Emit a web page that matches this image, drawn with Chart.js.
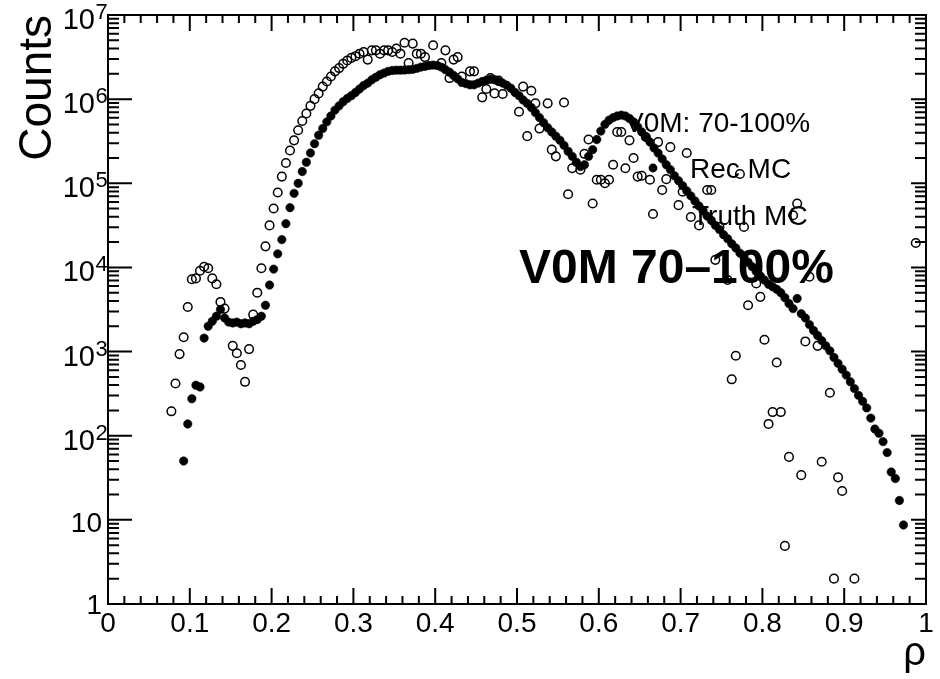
<!DOCTYPE html>
<html>
<head>
<meta charset="utf-8">
<script src="https://cdn.jsdelivr.net/npm/chart.js@4.4.0/dist/chart.umd.min.js"></script>
<style>
html,body{margin:0;padding:0;background:#fff;}
#wrap{width:940px;height:679px;}
</style>
</head>
<body>
<div id="wrap"><canvas id="c" width="940" height="679"></canvas></div>
<script>
// ---- data ----
const recX = [0.0925,0.0975,0.1025,0.1075,0.1125,0.1175,0.1225,0.1275,0.1325,0.1375,0.1425,0.1475,0.1525,0.1575,0.1625,0.1675,0.1725,0.1775,0.1825,0.1875,
0.1925,0.1975,0.2025,0.2075,0.2125,0.2175,0.2225,0.2275,0.2325,0.2375,0.2425,0.2475,0.2525,0.2575,0.2625,0.2675,0.2725,0.2775,0.2825,0.2875,
0.2925,0.2975,0.3025,0.3075,0.3125,0.3175,0.3225,0.3275,0.3325,0.3375,0.3425,0.3475,0.3525,0.3575,0.3625,0.3675,0.3725,0.3775,0.3825,0.3875,
0.3925,0.3975,0.4025,0.4075,0.4125,0.4175,0.4225,0.4275,0.4325,0.4375,0.4425,0.4475,0.4525,0.4575,0.4625,0.4675,0.4725,0.4775,0.4825,0.4875,
0.4925,0.4975,0.5025,0.5075,0.5125,0.5175,0.5225,0.5275,0.5325,0.5375,0.5425,0.5475,0.5525,0.5575,0.5625,0.5675,0.5725,0.5775,0.5825,0.5875,
0.5925,0.5975,0.6025,0.6075,0.6125,0.6175,0.6225,0.6275,0.6325,0.6375,0.6425,0.6475,0.6525,0.6575,0.6625,0.6675,0.6725,0.6775,0.6825,0.6875,
0.6925,0.6975,0.7025,0.7075,0.7125,0.7175,0.7225,0.7275,0.7325,0.7375,0.7425,0.7475,0.7525,0.7575,0.7625,0.7675,0.7725,0.7775,0.7825,0.7875,
0.7925,0.7975,0.8025,0.8075,0.8125,0.8175,0.8225,0.8275,0.8325,0.8375,0.8425,0.8475,0.8525,0.8575,0.8625,0.8675,0.8725,0.8775,0.8825,0.8875,
0.8925,0.8975,0.9025,0.9075,0.9125,0.9175,0.9225,0.9275,0.9325,0.9375,0.9425,0.9475,0.9525,0.9575,0.9625,0.9675,0.9725];
const recY = [50,138,275,398,380,1445,2000,2290,2630,3160,2510,2240,2190,2240,2140,2190,2140,2290,2400,2630,
3550,6170,9550,14500,21400,33100,51300,75900,100000,138000,178000,229000,295000,372000,447000,537000,631000,741000,832000,933000,
1020000,1100000,1200000,1320000,1450000,1550000,1700000,1820000,1950000,2040000,2140000,2190000,2210000,2210000,2220000,2240000,2260000,2320000,2400000,2450000,
2510000,2540000,2510000,2400000,2240000,2090000,1910000,1740000,1580000,1530000,1480000,1480000,1550000,1620000,1680000,1720000,1700000,1620000,1550000,1460000,
1350000,1200000,1100000,977000,891000,794000,692000,603000,525000,457000,407000,363000,324000,282000,240000,209000,178000,158000,166000,209000,
251000,331000,417000,501000,562000,603000,631000,646000,631000,589000,537000,468000,407000,355000,309000,263000,229000,195000,166000,145000,
123000,107000,93300,81300,70800,61700,53700,46800,40700,36300,31600,28200,24500,21900,19100,17000,14800,13200,11500,10200,
8910,7940,7080,6310,5890,5500,5010,4370,3720,3240,4270,2820,2510,2090,1780,1550,1350,1170,1020,851,
724,617,525,437,363,302,257,214,162,120,107,85,63,37,31,17,8.7];

const truthX = [0.0775,0.0825,0.0875,0.0925,0.0975,0.1025,0.1075,0.1125,0.1175,0.1225,0.1275,0.1325,0.1375,0.1425,0.1525,0.1575,0.1625,0.1675,0.1725,0.1775,
0.1825,0.1875,0.1925,0.1975,0.2025,0.2075,0.2125,0.2175,0.2225,0.2275,0.2325,0.2375,0.2425,0.2475,0.2525,0.2575,0.2625,0.2675,0.2725,0.2775,
0.2825,0.2875,0.2925,0.2975,0.3025,0.3075,0.3125,0.3175,0.3225,0.3275,0.3325,0.3375,0.3425,0.3475,0.3525,0.3575,0.3625,0.3675,0.3725,0.3775,
0.3825,0.3875,0.3975,0.4075,0.4125,0.4175,0.4225,0.4275,0.4325,0.4425,0.4475,0.4575,0.4625,0.4675,0.4725,0.4775,0.4825,0.5025,0.5075,0.5125,
0.5175,0.5225,0.5275,0.5375,0.5425,0.5475,0.5575,0.5625,0.5675,0.5775,0.5825,0.5875,0.5925,0.5975,0.6025,0.6075,0.6125,0.6175,0.6225,0.6275,
0.6325,0.6375,0.6425,0.6475,0.6525,0.6575,0.6625,0.6725,0.6775,0.6825,0.6875,0.6975,0.7025,0.7075,0.7125,0.7225,0.7325,0.7375,0.7425,0.7475,
0.7575,0.7625,0.7675,0.7725,0.7775,0.7825,0.7925,0.7975,0.8025,0.8075,0.8125,0.8175,0.8225,0.8275,0.8325,0.8375,0.8425,0.8475,0.8525,0.8575,
0.8675,0.8725,0.8825,0.8875,0.8925,0.8975,0.9125,0.9875];
const truthY = [195,417,933,1480,3390,7240,7410,9120,10200,9770,7410,6310,3890,3240,1170,955,692,437,1070,2750,
5010,9770,17800,31600,50100,77600,120000,174000,245000,324000,427000,550000,676000,832000,1000000,1170000,1410000,1620000,1860000,2140000,
2340000,2630000,2880000,3090000,3240000,3470000,3630000,2950000,3800000,3800000,3470000,3800000,3800000,3630000,3980000,3470000,4680000,2690000,4570000,3470000,
3470000,3160000,4370000,2690000,3800000,1780000,2950000,3160000,1860000,2140000,2140000,1050000,1320000,1780000,1170000,1660000,1150000,708000,1410000,363000,
1260000,891000,447000,891000,251000,209000,912000,74100,151000,145000,224000,331000,57500,110000,110000,100000,110000,166000,407000,407000,
151000,324000,200000,120000,123000,355000,110000,309000,83200,112000,269000,55000,79400,229000,39800,31600,83200,83200,12300,30200,
7080,468,891,129000,30200,3550,6460,4470,1380,138,191,741,191,4.9,56,41700,57500,34,1320,7760,
1170,49,324,2,32,22,2,19500];

const xTickValues = [0,0.1,0.2,0.3,0.4,0.5,0.6,0.7,0.8,0.9,1];
const xTickLabels = ['0','0.1','0.2','0.3','0.4','0.5','0.6','0.7','0.8','0.9','1'];
const yDecadeExponents = [0,1,2,3,4,5,6,7];

const seriesNames = ['Rec MC','Truth MC'];
const legendHeader = 'V0M: 70-100%';
const bigLabel = 'V0M 70\u2013100%';
const xTitle = '\u03C1';
const yTitle = 'Counts';

const recPts = recX.map((x,i)=>({x:x,y:recY[i]}));
const truthPts = truthX.map((x,i)=>({x:x,y:truthY[i]}));

const FONT = '"Liberation Sans", Arial, Helvetica, sans-serif';

function drawFilled(ctx,x,y){ctx.beginPath();ctx.arc(x,y,4.4,0,Math.PI*2);ctx.fillStyle='#000';ctx.fill();}
function drawOpen(ctx,x,y){ctx.beginPath();ctx.arc(x,y,4.3,0,Math.PI*2);ctx.lineWidth=1.5;ctx.strokeStyle='#000';ctx.stroke();}

const rootFrame = {
  id:'rootFrame',
  afterDraw(chart){
    const ctx = chart.ctx, xs = chart.scales.x, ys = chart.scales.y, a = chart.chartArea;
    ctx.save();
    ctx.strokeStyle='#000'; ctx.fillStyle='#000';
    ctx.lineWidth=2;
    ctx.strokeRect(a.left,a.top,a.right-a.left,a.bottom-a.top);
    ctx.beginPath();
    for(let i=0;i<=50;i++){
      const px = xs.getPixelForValue(i/50);
      const len = (i%5===0)?16:8;
      ctx.moveTo(px,a.bottom); ctx.lineTo(px,a.bottom-len);
      ctx.moveTo(px,a.top); ctx.lineTo(px,a.top+len);
    }
    for(let d=0; d<=6; d++){
      for(let k=1;k<=9;k++){
        const py = ys.getPixelForValue(k*Math.pow(10,d));
        const major = (k===1);
        ctx.moveTo(a.left,py); ctx.lineTo(a.left+(major?24:11),py);
        ctx.moveTo(a.right,py); ctx.lineTo(a.right-(major?15:11),py);
      }
    }
    ctx.stroke();
    ctx.font = '28px '+FONT;
    ctx.textAlign='center'; ctx.textBaseline='alphabetic';
    xTickValues.forEach((v,i)=>{
      ctx.fillText(xTickLabels[i], xs.getPixelForValue(v), 632);
    });
    yDecadeExponents.forEach(e=>{
      const py = ys.getPixelForValue(Math.pow(10,e));
      if(e===0){
        ctx.font='28px '+FONT; ctx.textAlign='right';
        ctx.fillText('1', 102, py+10);
      } else if(e===1){
        ctx.font='28px '+FONT; ctx.textAlign='right';
        ctx.fillText('10', 102, py+12);
      } else {
        ctx.font='29px '+FONT; ctx.textAlign='right';
        ctx.fillText('10', 95, py+14);
        ctx.font='22px '+FONT; ctx.textAlign='left';
        ctx.fillText(String(e), 95.5, py+4);
      }
    });
    ctx.font='40px '+FONT; ctx.textAlign='right';
    ctx.fillText(xTitle, a.right, 665);
    ctx.save();
    ctx.translate(51, a.top);
    ctx.rotate(-Math.PI/2);
    ctx.font='46px '+FONT; ctx.textAlign='right';
    ctx.fillText(yTitle, 0, 0);
    ctx.restore();
    ctx.font='28px '+FONT; ctx.textAlign='left';
    ctx.fillText(legendHeader, 625, 132);
    ctx.fillText(seriesNames[0], 690, 178);
    ctx.fillText(seriesNames[1], 692, 225);
    drawFilled(ctx,653,168);
    drawOpen(ctx,653,214);
    ctx.fillStyle='#000';
    ctx.font='bold 48px '+FONT; ctx.textAlign='left';
    ctx.fillText(bigLabel, 519, 283);
    ctx.restore();
  }
};

new Chart(document.getElementById('c').getContext('2d'), {
  type:'scatter',
  data:{datasets:[
    {label:seriesNames[0], data:recPts, pointStyle:'circle', pointRadius:4.2, pointBorderWidth:0.6,
     pointBackgroundColor:'#000', pointBorderColor:'#000', showLine:false, clip:false},
    {label:seriesNames[1], data:truthPts, pointStyle:'circle', pointRadius:4.3, pointBorderWidth:1.5,
     pointBackgroundColor:'rgba(0,0,0,0)', pointBorderColor:'#000', showLine:false, clip:false}
  ]},
  options:{
    responsive:false, animation:false, devicePixelRatio:1,
    layout:{padding:{left:108,right:14,top:15,bottom:75}},
    plugins:{legend:{display:false}, tooltip:{enabled:false}},
    scales:{
      x:{type:'linear', min:0, max:1, display:false},
      y:{type:'logarithmic', min:1, max:1e7, display:false}
    }
  },
  plugins:[rootFrame]
});
</script>
</body>
</html>
